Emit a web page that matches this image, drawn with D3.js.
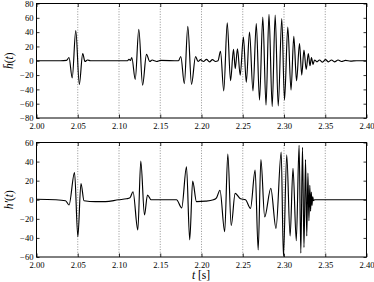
<!DOCTYPE html>
<html>
<head>
<meta charset="utf-8">
<script src="https://cdn.jsdelivr.net/npm/d3@7"></script>
<style>
  body { margin: 0; background: #fff; }
  svg text { font-family: 'Liberation Serif', 'DejaVu Serif', serif; fill: #000; }
  .axis text { font-size: 8.6px; }
  .axis line { stroke: #000; stroke-width: 0.8; }
  .axis .domain { display: none; }
  .grid line { stroke: #777; stroke-width: 0.8; stroke-dasharray: 1,1.6; }
  .frame { fill: none; stroke: #000; stroke-width: 1; }
  .wave { fill: none; stroke: #000; stroke-width: 1.15; stroke-linejoin: round; }
  .title { font-size: 11.5px; }
</style>
</head>
<body>
<div id="chart"></div>
<script>
// Values (extrema + flat stretches)

// Top panel: h-bar(t)
const topTimes = [
  2.0000, 2.0291, 2.0364, 2.0394, 2.0433, 2.0476, 2.0519, 2.0560, 2.0588, 2.0618,
  2.0655, 2.1103, 2.1121, 2.1139, 2.1155, 2.1197, 2.1240, 2.1286, 2.1333, 2.1373,
  2.1402, 2.1430, 2.1455, 2.1503, 2.1721, 2.1749, 2.1792, 2.1834, 2.1879, 2.1928,
  2.1958, 2.1988, 2.2024, 2.2061, 2.2097, 2.2133, 2.2170, 2.2200, 2.2230, 2.2270,
  2.2312, 2.2352, 2.2388, 2.2409, 2.2436, 2.2469, 2.2508, 2.2543, 2.2582, 2.2624,
  2.2664, 2.2703, 2.2743, 2.2782, 2.2818, 2.2857, 2.2893, 2.2930, 2.2973, 2.3006,
  2.3046, 2.3085, 2.3119, 2.3152, 2.3188, 2.3215, 2.3242, 2.3269, 2.3295, 2.3315,
  2.3333, 2.3352, 2.3370, 2.3400, 2.3430, 2.3467, 2.3503, 2.3539, 2.3576, 2.3612,
  2.3655, 2.3697, 2.3745, 2.3806, 2.3879, 2.4000
]
const topValues = [
  0, 0, 0.5, 4.5, -24, 42, -33, 10, -1, 1,
  0, 0, 2, 0.5, 4.5, -26, 44, -34, 9, -1,
  1, 0, -1, 0.5, 0, 6, -32, 48, -33, 6,
  -1, 1.5, -1, 2, -1.5, 1.5, -1, 0, 13, -42,
  53, -28, 16, -11, 16.5, -20, 33, -30, 40, -42,
  52, -55, 61, -62, 65, -64, 64, -63, 59, -55,
  47, -41, 34, -28, 24, -20, 15, -12, 10, -7,
  4.5, -5, 1, -1.5, 1, -2, 1.5, -1.5, 1, -1.5,
  1, -1, 0.5, -0.5, 0, 0
]

// Bottom panel: h'(t)
const bottomTimes = [
  2.0000, 2.0230, 2.0352, 2.0394, 2.0461, 2.0501, 2.0539, 2.0576, 2.0715, 2.0836,
  2.0994, 2.1091, 2.1133, 2.1170, 2.1228, 2.1264, 2.1309, 2.1345, 2.1388, 2.1564,
  2.1697, 2.1760, 2.1818, 2.1857, 2.1893, 2.1939, 2.2048, 2.2145, 2.2182, 2.2224,
  2.2281, 2.2319, 2.2360, 2.2408, 2.2473, 2.2533, 2.2594, 2.2650, 2.2687, 2.2720,
  2.2766, 2.2840, 2.2903, 2.2966, 2.2993, 2.3033, 2.3074, 2.3109, 2.3149, 2.3183,
  2.3204, 2.3224, 2.3242, 2.3261, 2.3276, 2.3290, 2.3302, 2.3313, 2.3322, 2.3331,
  2.3339, 2.3348, 2.3358, 2.3370, 2.4000
]
const bottomValues = [
  0.5, 0, -1, -5.5, 28.6, -38.7, 17, -1, -2, -2,
  0, 1, 2, 8.4, -31.7, 40.5, -16, 5, 0, 0,
  0, -8.5, 34.5, -42, 19.5, -2, -1.5, 0, 2, 10,
  -33.5, 48, -27, 6.7, 1, 0, -9, 31, -52.6, 42,
  -18, 12, -30, 50, -59.6, 47, -38, 33, -43, 57,
  -56, 55, -50, 42, -38, 28, -22, 15, -12, 8,
  -6, 3, -1, 0, 0
]

const xTicks = [2.00, 2.05, 2.10, 2.15, 2.20, 2.25, 2.30, 2.35, 2.40]
const topYTicks = [-80, -60, -40, -20, 0, 20, 40, 60, 80]
const bottomYTicks = [-60, -40, -20, 0, 20, 40, 60]

let width = 374,
    height = 282

let svg = d3.select('#chart').append('svg')
    .attr('width', width)
    .attr('height', height)

let xScale = d3.scaleLinear()
    .domain([2.0, 2.4])
    .range([0, 330])

/**
 * Draw one panel: frame, grid, ticks on all sides and the waveform
 */
function drawPanel(opts) {
  let g = svg.append('g')
      .attr('transform', 'translate(' + opts.left + ',' + opts.top + ')')

  let h = opts.height,
      w = 330

  let yScale = d3.scaleLinear()
      .domain(opts.yDomain)
      .range([h, 0])

  // Vertical dotted grid
  g.append('g')
    .attr('class', 'grid')
    .selectAll('line')
    .data(xTicks.slice(1, -1))
    .enter().append('line')
    .attr('x1', d => xScale(d))
    .attr('x2', d => xScale(d))
    .attr('y1', 0)
    .attr('y2', h)

  // Axes (ticks inward)
  g.append('g')
    .attr('class', 'axis axis-x')
    .attr('transform', 'translate(0,' + h + ')')
    .call(d3.axisBottom(xScale).tickValues(xTicks).tickSize(-3.5).tickPadding(4.5)
      .tickFormat(d3.format('.2f')))

  g.append('g')
    .attr('class', 'axis')
    .call(d3.axisTop(xScale).tickValues(xTicks).tickSize(-3.5).tickFormat(''))

  g.append('g')
    .attr('class', 'axis axis-y')
    .call(d3.axisLeft(yScale).tickValues(opts.yTicks).tickSize(-3).tickPadding(3)
      .tickFormat(d3.format('d')))

  g.append('g')
    .attr('class', 'axis')
    .attr('transform', 'translate(' + w + ',0)')
    .call(d3.axisRight(yScale).tickValues(opts.yTicks).tickSize(-3).tickFormat(''))

  // Waveform
  let line = d3.line()
      .x(d => xScale(d[0]))
      .y(d => yScale(d[1]))
      .curve(d3.curveMonotoneX)

  g.append('path')
    .datum(d3.zip(opts.times, opts.values))
    .attr('class', 'wave')
    .attr('d', line)

  g.append('rect')
    .attr('class', 'frame')
    .attr('x', 0)
    .attr('y', 0)
    .attr('width', w)
    .attr('height', h)

  // Y title
  let title = svg.append('text')
      .attr('class', 'title')
      .attr('text-anchor', 'middle')
      .attr('transform', 'translate(' + opts.titleX + ',' + (opts.top + h / 2) + ') rotate(-90)')
  title.append('tspan').style('font-style', 'italic').text(opts.titleMain)
  title.append('tspan').text('(')
  title.append('tspan').style('font-style', 'italic').text('t')
  title.append('tspan').text(')')
}

drawPanel({
  left: 36.5, top: 3.5, height: 114.5,
  yDomain: [-80, 80], yTicks: topYTicks,
  times: topTimes, values: topValues,
  titleMain: 'h\u0304', titleX: 13
})

drawPanel({
  left: 36.5, top: 142.5, height: 114.5,
  yDomain: [-60, 60], yTicks: bottomYTicks,
  times: bottomTimes, values: bottomValues,
  titleMain: 'h\u2032', titleX: 13
})

// X title
let xTitle = svg.append('text')
    .attr('class', 'title')
    .attr('text-anchor', 'middle')
    .attr('x', 201)
    .attr('y', 278.5)
xTitle.append('tspan').style('font-style', 'italic').text('t')
xTitle.append('tspan').text(' [s]')
</script>
</body>
</html>
